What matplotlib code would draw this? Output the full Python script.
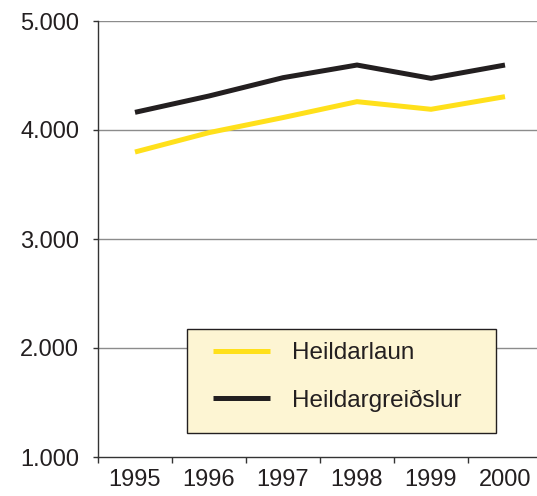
import matplotlib
matplotlib.use("Agg")
import matplotlib.pyplot as plt
from matplotlib.ticker import FuncFormatter, FixedLocator
from matplotlib.patches import Rectangle

years = ["1995", "1996", "1997", "1998", "1999", "2000"]
heildarlaun = [3798, 3976, 4114, 4260, 4190, 4306]
heildargreidslur = [4162, 4312, 4480, 4596, 4474, 4596]
series_names = ["Heildarlaun", "Heildargreiðslur"]
yticks = [1000, 2000, 3000, 4000, 5000]

plt.rcParams['font.family'] = ['Liberation Sans', 'DejaVu Sans']
txt = '#231f20'
W, H = 537, 496

fig = plt.figure(figsize=(W / 100, H / 100), dpi=100)
left = 98 / W
right = 542 / W
bottom = (H - 457) / H
top = (H - 21) / H
ax = fig.add_axes([left, bottom, right - left, top - bottom])

x = list(range(len(years)))
ax.plot(x, heildarlaun, color='#ffe01b', lw=3.6, solid_capstyle='butt', solid_joinstyle='miter', label=series_names[0], zorder=3)
ax.plot(x, heildargreidslur, color='#231f20', lw=3.6, solid_capstyle='butt', solid_joinstyle='miter', label=series_names[1], zorder=3)

ax.set_xlim(-0.5, len(years) - 0.5)
ax.set_ylim(1000, 5000)

ax.set_yticks(yticks)
ax.yaxis.set_major_formatter(FuncFormatter(lambda v, p: f"{int(v):,}".replace(",", ".")))
for v in yticks[1:]:
    ax.axhline(v, color='#8c8c8c', lw=1.0, zorder=1)

ax.set_xticks(x)
ax.set_xticklabels(years)
ax.xaxis.set_minor_locator(FixedLocator([i - 0.5 for i in range(len(years) + 1)]))
ax.tick_params(axis='x', which='major', length=0, pad=9, labelsize=17, labelcolor=txt)
ax.tick_params(axis='x', which='minor', length=4.3, width=1, color='#333333')
ax.tick_params(axis='y', which='major', length=3.6, width=1, color='#333333', pad=10, labelsize=17, labelcolor=txt)

for s in ['top', 'right']:
    ax.spines[s].set_visible(False)
for s in ['left', 'bottom']:
    ax.spines[s].set_color('#333333')
    ax.spines[s].set_linewidth(1.0)

# legend frame
fig.patches.append(Rectangle((187 / W, (H - 433) / H), (496 - 187) / W, (433 - 329) / H,
                             transform=fig.transFigure, facecolor='#fdf5d3', edgecolor='#231f20',
                             lw=1.0, zorder=4))
leg = fig.legend(loc='center left', bbox_to_anchor=(213 / W, (H - 377) / H),
                 fontsize=17.5, frameon=False, handlelength=2.35, handletextpad=0.9,
                 labelspacing=1.05, borderpad=0.0, borderaxespad=0.0)
leg.set_zorder(5)
for t in leg.get_texts():
    t.set_color(txt)
for h in leg.get_lines():
    h.set_linewidth(3.6)

fig.savefig('out.png', dpi=100)
